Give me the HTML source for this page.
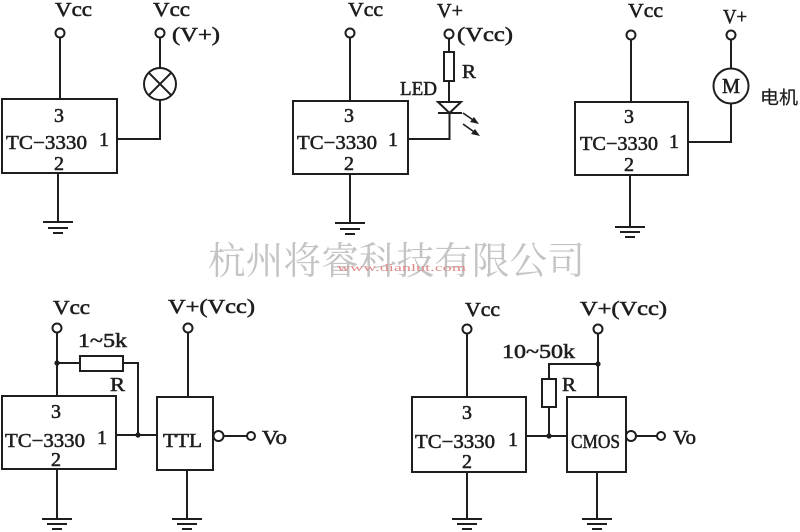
<!DOCTYPE html>
<html><head><meta charset="utf-8"><style>
html,body{margin:0;padding:0;background:#fff;}
svg{display:block;}
text{font-family:"Liberation Serif","Noto Serif CJK SC",serif;fill:#1e1e1e;}
</style></head><body>
<svg width="800" height="532" viewBox="0 0 800 532" xmlns="http://www.w3.org/2000/svg">
<!-- watermark -->
<text x="208" y="274" font-size="38" textLength="377" lengthAdjust="spacingAndGlyphs" style="fill:#c4c4c4;font-family:'Noto Serif CJK SC','Liberation Serif',serif;">杭州将睿科技有限公司</text>
<text x="337" y="271" font-size="11" textLength="129" lengthAdjust="spacingAndGlyphs" style="fill:#e08a8a;">www.dianlut.com</text>

<g stroke="#1e1e1e" stroke-width="2" fill="none">
<!-- Circuit 1 -->
<line x1="60" y1="37.5" x2="60" y2="99"/>
<circle cx="60" cy="33" r="4.5" fill="#fff"/>
<rect x="2" y="99" width="115" height="74"/>
<line x1="58" y1="173" x2="58" y2="222"/>
<line x1="43" y1="222" x2="73" y2="222"/>
<line x1="48" y1="228" x2="68" y2="228"/>
<line x1="53" y1="233" x2="63" y2="233"/>
<circle cx="160" cy="33" r="4.5" fill="#fff"/>
<line x1="160" y1="37.5" x2="160" y2="68"/>
<circle cx="160" cy="84" r="16"/>
<line x1="148.7" y1="72.7" x2="171.3" y2="95.3"/>
<line x1="171.3" y1="72.7" x2="148.7" y2="95.3"/>
<polyline points="160,100 160,139 117,139"/>

<!-- Circuit 2 -->
<circle cx="350" cy="33" r="4.5" fill="#fff"/>
<line x1="350" y1="37.5" x2="350" y2="101"/>
<rect x="293" y="101" width="115" height="73"/>
<line x1="350" y1="174" x2="350" y2="223"/>
<line x1="335" y1="223" x2="365" y2="223"/>
<line x1="340" y1="229" x2="360" y2="229"/>
<line x1="345" y1="234" x2="355" y2="234"/>
<circle cx="449" cy="34" r="4.5" fill="#fff"/>
<line x1="449" y1="38.5" x2="449" y2="52"/>
<rect x="444" y="52" width="10" height="29"/>
<line x1="449" y1="81" x2="449" y2="102"/>
<polygon points="438,102 461,102 449.5,113"/>
<line x1="438" y1="113" x2="462" y2="113"/>
<polyline points="449.5,113 449.5,139 408,139"/>
<line x1="463" y1="113" x2="476" y2="122" stroke-width="1.6"/>
<line x1="463" y1="124" x2="477" y2="134" stroke-width="1.6"/>

<!-- Circuit 3 -->
<circle cx="631" cy="35" r="4.5" fill="#fff"/>
<line x1="631" y1="39.5" x2="631" y2="102"/>
<rect x="575" y="102" width="113" height="73"/>
<line x1="630" y1="175" x2="630" y2="227"/>
<line x1="615" y1="227" x2="645" y2="227"/>
<line x1="620" y1="232" x2="640" y2="232"/>
<line x1="625" y1="237" x2="635" y2="237"/>
<circle cx="731" cy="35" r="4.5" fill="#fff"/>
<line x1="731" y1="39.5" x2="731" y2="68"/>
<circle cx="731" cy="86" r="17.5"/>
<polyline points="731,103.5 731,142 688,142"/>

<!-- Bottom-left -->
<circle cx="57" cy="328" r="4.5" fill="#fff"/>
<line x1="57" y1="332.5" x2="57" y2="396"/>
<line x1="57" y1="363" x2="80" y2="363"/>
<rect x="80" y="356" width="43" height="15"/>
<polyline points="123,363 138,363 138,435"/>
<rect x="2" y="396" width="114" height="73"/>
<line x1="116" y1="435" x2="157" y2="435"/>
<rect x="157" y="397" width="56" height="73"/>
<circle cx="188" cy="328" r="4.5" fill="#fff"/>
<line x1="188" y1="332.5" x2="188" y2="397"/>
<circle cx="218.5" cy="436" r="5"/>
<line x1="223.5" y1="436" x2="247" y2="436"/>
<circle cx="251" cy="436" r="4" fill="#fff"/>
<line x1="57" y1="469" x2="57" y2="519"/>
<line x1="42" y1="519" x2="72" y2="519"/>
<line x1="47" y1="524" x2="67" y2="524"/>
<line x1="52" y1="529" x2="62" y2="529"/>
<line x1="187" y1="470" x2="187" y2="519"/>
<line x1="172" y1="519" x2="202" y2="519"/>
<line x1="177" y1="524" x2="197" y2="524"/>
<line x1="182" y1="529" x2="192" y2="529"/>

<!-- Bottom-right -->
<circle cx="467" cy="329" r="4.5" fill="#fff"/>
<line x1="467" y1="333.5" x2="467" y2="397"/>
<rect x="412" y="397" width="114" height="75"/>
<line x1="526" y1="436" x2="567" y2="436"/>
<rect x="542" y="379" width="14" height="28"/>
<line x1="549" y1="407" x2="549" y2="436"/>
<polyline points="549,379 549,364 598,364"/>
<circle cx="598" cy="329" r="4.5" fill="#fff"/>
<line x1="598" y1="333.5" x2="598" y2="397"/>
<rect x="567" y="397" width="59" height="75"/>
<circle cx="631" cy="436" r="5"/>
<line x1="636" y1="436" x2="657" y2="436"/>
<circle cx="661" cy="436" r="4" fill="#fff"/>
<line x1="467" y1="472" x2="467" y2="519"/>
<line x1="452" y1="519" x2="482" y2="519"/>
<line x1="457" y1="524" x2="477" y2="524"/>
<line x1="462" y1="529" x2="472" y2="529"/>
<line x1="597" y1="472" x2="597" y2="519"/>
<line x1="582" y1="519" x2="612" y2="519"/>
<line x1="587" y1="524" x2="607" y2="524"/>
<line x1="592" y1="529" x2="602" y2="529"/>
</g>

<!-- arrowheads and dots -->
<g fill="#1e1e1e">
<polygon points="479,124 470,122 474,117"/>
<polygon points="480,136 471,134 475,129"/>
<circle cx="57" cy="363" r="2.6"/>
<circle cx="138" cy="435" r="2.6"/>
<circle cx="549" cy="436" r="2.6"/>
<circle cx="598" cy="364" r="2.6"/>
</g>

<!-- labels -->
<g font-size="20" stroke="#1e1e1e" stroke-width="0.55">
<!-- circuit 1 -->
<text x="55" y="16" textLength="37" lengthAdjust="spacingAndGlyphs">Vcc</text>
<text x="153" y="16" textLength="37" lengthAdjust="spacingAndGlyphs">Vcc</text>
<text x="172" y="41" textLength="48" lengthAdjust="spacingAndGlyphs">(V+)</text>
<text x="54" y="122">3</text>
<text x="6" y="149" textLength="81" lengthAdjust="spacingAndGlyphs">TC−3330</text>
<text x="99" y="146">1</text>
<text x="54" y="170">2</text>
<!-- circuit 2 -->
<text x="348" y="16" textLength="35" lengthAdjust="spacingAndGlyphs">Vcc</text>
<text x="437" y="17" textLength="26" lengthAdjust="spacingAndGlyphs">V+</text>
<text x="457" y="41" textLength="56" lengthAdjust="spacingAndGlyphs">(Vcc)</text>
<text x="462" y="78" textLength="14" lengthAdjust="spacingAndGlyphs">R</text>
<text x="400" y="95" textLength="37" lengthAdjust="spacingAndGlyphs">LED</text>
<text x="344" y="122">3</text>
<text x="297" y="149" textLength="80" lengthAdjust="spacingAndGlyphs">TC−3330</text>
<text x="388" y="146">1</text>
<text x="344" y="170">2</text>
<!-- circuit 3 -->
<text x="628" y="17" textLength="35" lengthAdjust="spacingAndGlyphs">Vcc</text>
<text x="723" y="23" textLength="24" lengthAdjust="spacingAndGlyphs">V+</text>
<text x="722" y="93" font-size="21" textLength="18" lengthAdjust="spacingAndGlyphs">M</text>
<text x="760" y="104" font-size="18" stroke-width="0.2" textLength="38" lengthAdjust="spacingAndGlyphs" style="font-family:'Noto Sans CJK SC',sans-serif;">电机</text>
<text x="624" y="123">3</text>
<text x="580" y="150" textLength="78" lengthAdjust="spacingAndGlyphs">TC−3330</text>
<text x="669" y="148">1</text>
<text x="624" y="171">2</text>
<!-- bottom-left -->
<text x="53" y="314" textLength="37" lengthAdjust="spacingAndGlyphs">Vcc</text>
<text x="168" y="313" textLength="87" lengthAdjust="spacingAndGlyphs">V+(Vcc)</text>
<text x="78" y="347" textLength="49" lengthAdjust="spacingAndGlyphs">1~5k</text>
<text x="110" y="391" textLength="15" lengthAdjust="spacingAndGlyphs">R</text>
<text x="51" y="418">3</text>
<text x="5" y="447" textLength="80" lengthAdjust="spacingAndGlyphs">TC−3330</text>
<text x="97" y="444">1</text>
<text x="51" y="466">2</text>
<text x="163" y="447" textLength="39" lengthAdjust="spacingAndGlyphs">TTL</text>
<text x="262" y="444" textLength="25" lengthAdjust="spacingAndGlyphs">Vo</text>
<!-- bottom-right -->
<text x="465" y="316" textLength="35" lengthAdjust="spacingAndGlyphs">Vcc</text>
<text x="580" y="315" textLength="87" lengthAdjust="spacingAndGlyphs">V+(Vcc)</text>
<text x="502" y="358" textLength="73" lengthAdjust="spacingAndGlyphs">10~50k</text>
<text x="562" y="391" textLength="14" lengthAdjust="spacingAndGlyphs">R</text>
<text x="462" y="419">3</text>
<text x="415" y="448" textLength="80" lengthAdjust="spacingAndGlyphs">TC−3330</text>
<text x="508" y="446">1</text>
<text x="462" y="468">2</text>
<text x="571" y="448" textLength="49" lengthAdjust="spacingAndGlyphs">CMOS</text>
<text x="673" y="444" textLength="23" lengthAdjust="spacingAndGlyphs">Vo</text>
</g>
</svg>
</body></html>
